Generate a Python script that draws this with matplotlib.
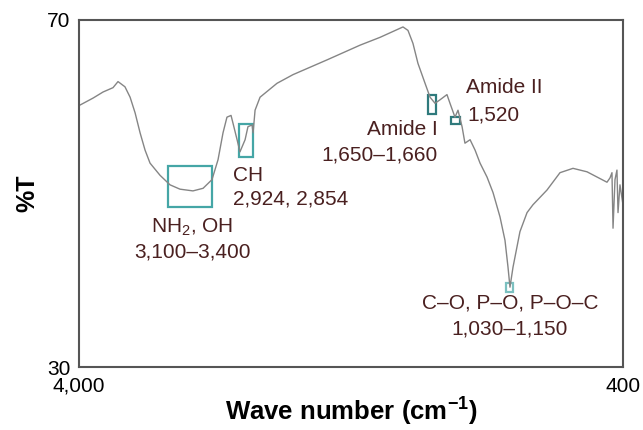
import numpy as np
import matplotlib.pyplot as plt
from matplotlib.patches import Rectangle

plt.rcParams['font.family'] = ['Liberation Sans', 'DejaVu Sans']
plt.rcParams['mathtext.fontset'] = 'custom'
plt.rcParams['mathtext.rm'] = 'Liberation Sans'
plt.rcParams['mathtext.bf'] = 'Liberation Sans:bold'

# spectrum
wavenumber = [3993, 3907, 3841, 3775, 3742, 3696, 3662, 3629, 3596, 3563, 3530,
              3464, 3398, 3332, 3246, 3179, 3120, 3080, 3047, 3021, 2994, 2981,
              2954, 2935, 2901, 2882, 2855, 2848, 2835, 2802, 2690, 2584, 2359,
              2140, 2008, 1856, 1823, 1790, 1757, 1710, 1677, 1644, 1611, 1565,
              1545, 1512, 1492, 1465, 1446, 1412, 1379, 1346, 1300, 1260, 1214,
              1181, 1161, 1148, 1128, 1082, 1035, 996, 903, 817, 731, 638, 572,
              506, 486, 473, 466, 453, 440, 433, 420, 400]
transmittance = [60.2, 61.0, 61.7, 62.2, 62.9, 62.3, 61.1, 59.3, 57.0, 55.0, 53.5,
                 52.1, 51.0, 50.5, 50.3, 50.6, 51.6, 53.9, 57.0, 58.8, 59.0, 58.1,
                 56.2, 54.8, 56.2, 57.7, 57.9, 57.0, 59.6, 61.1, 62.7, 63.7, 65.4,
                 67.1, 68.0, 69.2, 68.8, 67.3, 65.0, 62.7, 61.1, 60.4, 60.8, 61.4,
                 60.4, 58.8, 59.6, 57.7, 55.8, 56.2, 55.0, 53.5, 51.9, 50.1, 47.3,
                 44.6, 41.5, 39.2, 41.5, 45.6, 47.8, 48.7, 50.4, 52.4, 52.9, 52.5, 51.9,
                 51.3, 51.8, 52.4, 46.0, 51.6, 52.7, 47.8, 51.0, 48.7]

# highlighted regions: (x_high, x_low, y_low, y_high)
boxes = [(3412, 3120, 48.4, 53.2),
         (2941, 2848, 54.2, 58.0),
         (1690, 1637, 59.2, 61.4),
         (1538, 1479, 58.0, 58.8),
         (1174, 1128, 38.6, 39.7)]
box_colors = ['#45a6a6', '#45a6a6', '#2f7a7c', '#2f7a7c', '#7cc0c0']

labels = [("NH$_2$, OH", 3252, 46.1, 'center'), ("3,100–3,400", 3252, 43.2, 'center'),
          ("CH", 2981, 52.1, 'left'), ("2,924, 2,854", 2981, 49.4, 'left'),
          ("Amide I", 1624, 57.4, 'right'), ("1,650–1,660", 1624, 54.4, 'right'),
          ("Amide II", 1439, 62.2, 'left'), ("1,520", 1432, 59.1, 'left'),
          ("C–O, P–O, P–O–C", 1148, 37.4, 'center'), ("1,030–1,150", 1148, 34.4, 'center')]

fig = plt.figure(figsize=(6.43, 4.30), dpi=100)
ax = fig.add_axes([0.1229, 0.1465, 0.846, 0.807])

ax.plot(wavenumber, transmittance, color='#858585', lw=1.0)

for (x1, x2, y1, y2), c in zip(boxes, box_colors):
    ax.add_patch(Rectangle((x2, y1), x1 - x2, y2 - y1, fill=False, ec=c, lw=1.6))

for txt, x, y, ha in labels:
    ax.text(x, y, txt, ha=ha, va='center', fontsize=15, color='#4a2020')

ax.set_xlim(4000, 400)
ax.set_ylim(30, 70)
ax.set_xticks([4000, 400])
ax.set_xticklabels(['4,000', '400'])
ax.set_yticks([30, 70])
ax.tick_params(length=0, labelsize=15)
ax.tick_params(axis='x', pad=7)
ax.tick_params(axis='y', pad=6)
for s in ax.spines.values():
    s.set_color('#555555')
    s.set_linewidth(1.5)

ax.set_xlabel("Wave number (cm$^{\\mathbf{-1}}$)", fontsize=18.5, fontweight='bold')
ax.xaxis.set_label_coords(0.5, -0.125)
ax.xaxis.label.set_va('center')
ax.set_ylabel("%T", fontsize=18, fontweight='bold', labelpad=6)

fig.savefig('out.png', dpi=100)
